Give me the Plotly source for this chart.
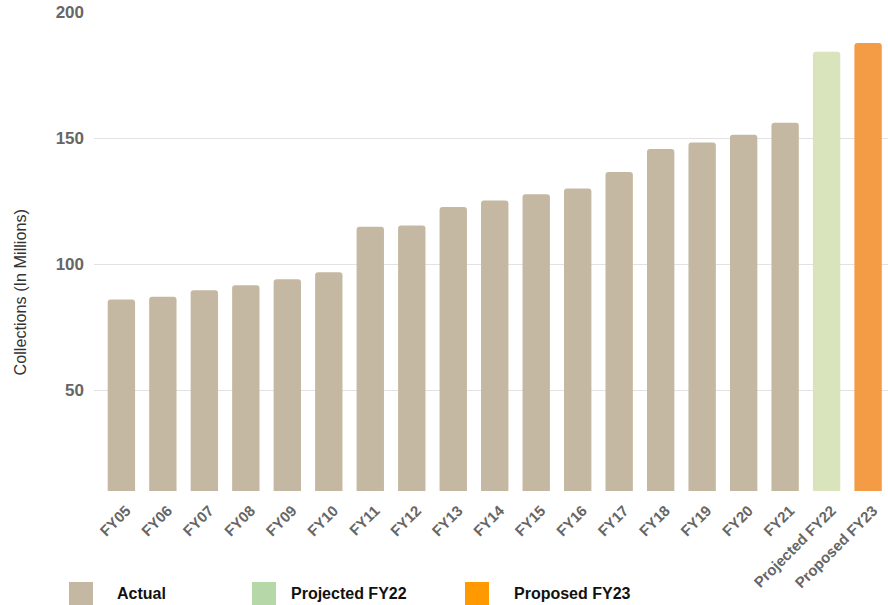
import plotly.graph_objects as go

categories = ["FY05", "FY06", "FY07", "FY08", "FY09", "FY10", "FY11", "FY12", "FY13",
              "FY14", "FY15", "FY16", "FY17", "FY18", "FY19", "FY20", "FY21",
              "Projected FY22", "Proposed FY23"]
collections = [86.0, 87.1, 89.6, 91.6, 94.0, 96.8, 114.8, 115.3, 122.7,
               125.2, 127.7, 130.0, 136.5, 145.7, 148.2, 151.3, 156.1,
               184.2, 187.7]
series_kind = ["Actual"] * 17 + ["Projected FY22", "Proposed FY23"]
legend_labels = ["Actual", "Projected FY22", "Proposed FY23"]
y_ticks = [50, 100, 150, 200]
y_title = "Collections (In Millions)"

bar_colors = {"Actual": "#c5b8a2", "Projected FY22": "#d9e4bd", "Proposed FY23": "#f39c45"}
legend_colors = {"Actual": "#c5b8a2", "Projected FY22": "#b6d7a8", "Proposed FY23": "#ff9900"}

W, H = 888, 605
L, R, T, B = 94, 0, 12, 114
PW, PH = W - L - R, H - T - B

def px(x):
    return (x - L) / PW

def py(y):
    return (H - B - y) / PH

fig = go.Figure()
fig.add_trace(go.Bar(
    x=categories, y=collections,
    marker=dict(color=[bar_colors[k] for k in series_kind], line=dict(width=0)),
    showlegend=False,
    hovertemplate="%{x}: %{y}<extra></extra>",
))

# manual legend
legend_pos = [(69, 115), (252, 289), (465, 512)]
shapes = []
annotations = []
for lab, (sx, tx) in zip(legend_labels, legend_pos):
    shapes.append(dict(type="rect", xref="paper", yref="paper",
                       x0=px(sx), x1=px(sx + 24), y0=py(582), y1=py(606),
                       fillcolor=legend_colors[lab], line=dict(width=0), layer="above"))
    annotations.append(dict(text=lab, xref="paper", yref="paper", x=px(tx), y=py(593),
                            xanchor="left", yanchor="middle", showarrow=False,
                            font=dict(family="Liberation Sans, Arial", size=16,
                                      color="#111111", weight="bold")))

# y-axis title (placed as annotation to match offset position)
annotations.append(dict(text=y_title, xref="paper", yref="paper", x=px(19), y=py(292.5),
                        xanchor="center", yanchor="middle", textangle=-90, showarrow=False,
                        font=dict(family="Liberation Sans, Arial", size=16.2, color="#333333")))

fig.update_layout(
    width=W, height=H, autosize=False,
    margin=dict(l=L, r=R, t=T, b=B, pad=0),
    plot_bgcolor="white", paper_bgcolor="white",
    bargap=0.34,
    barcornerradius=3,
    shapes=shapes,
    annotations=annotations,
    xaxis=dict(
        type="category",
        range=[-0.66, 18.48],
        tickangle=-45,
        showgrid=False, showline=False, zeroline=False,
        ticks="",
        ticklabelstandoff=7,
        ticklabelshift=5,
        tickfont=dict(family="Liberation Sans, Arial", size=15, color="#666666", weight="bold"),
    ),
    yaxis=dict(
        range=[10, 200],
        tickvals=y_ticks,
        showgrid=True, gridcolor="#e2e2e2", gridwidth=1,
        zeroline=False, showline=False, ticks="",
        ticklabelstandoff=9,
        tickfont=dict(family="Liberation Sans, Arial", size=17, color="#666666", weight="bold"),
    ),
)

fig.write_html("out.html", config={"displayModeBar": False},
               post_script="document.body.style.margin='0';")
